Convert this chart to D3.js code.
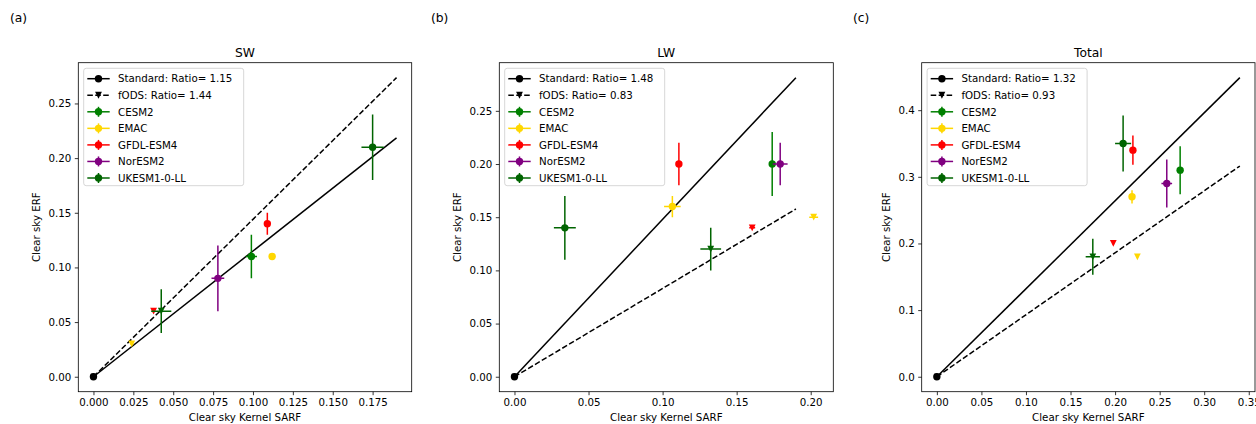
<!DOCTYPE html>
<html>
<head>
<meta charset="utf-8">
<script src="https://cdn.jsdelivr.net/npm/d3@7"></script>
<style>
  body { margin: 0; background: #fff; }
  svg text { font-family: "DejaVu Sans", sans-serif; fill: #000; }
</style>
</head>
<body>
<svg id="chart" width="1256" height="424"></svg>
<script>
// ---------------- DATA ----------------
const models = ["CESM2", "EMAC", "GFDL-ESM4", "NorESM2", "UKESM1-0-LL"];
const modelColors = ["#008000", "#FFD700", "#FF0000", "#800080", "#006400"];
const fodsModels = ["EMAC", "GFDL-ESM4", "UKESM1-0-LL"];

const panelTitles = ["SW", "LW", "Total"];
const panelLetters = ["(a)", "(b)", "(c)"];
const ratioStandard = [1.15, 1.48, 1.32];
const ratioFods = [1.44, 0.83, 0.93];
const lineEndX = [0.19, 0.19, 0.34];

// Standard experiment (order = models)
const swStdX    = [0.099, 0.112, 0.109, 0.078, 0.175];
const swStdY    = [0.110, 0.110, 0.140, 0.090, 0.210];
const swStdXerr = [0.0035, 0.002, 0.001, 0.004, 0.007];
const swStdYerr = [0.020, 0.001, 0.010, 0.030, 0.030];
const lwStdX    = [0.174, 0.1066, 0.111, 0.1794, 0.034];
const lwStdY    = [0.200, 0.160, 0.200, 0.200, 0.140];
const lwStdXerr = [0.001, 0.0056, 0.001, 0.005, 0.0074];
const lwStdYerr = [0.030, 0.010, 0.020, 0.020, 0.030];
const totStdX    = [0.273, 0.219, 0.220, 0.258, 0.209];
const totStdY    = [0.310, 0.270, 0.340, 0.290, 0.350];
const totStdXerr = [0.001, 0.003, 0.001, 0.006, 0.009];
const totStdYerr = [0.036, 0.010, 0.022, 0.036, 0.042];

// fODS experiment (order = fodsModels)
const swFodsX    = [0.024, 0.0377, 0.0425];
const swFodsY    = [0.030, 0.060, 0.060];
const swFodsXerr = [0.001, 0.001, 0.0063];
const swFodsYerr = [0.001, 0.001, 0.020];
const lwFodsX    = [0.202, 0.1605, 0.1325];
const lwFodsY    = [0.150, 0.140, 0.120];
const lwFodsXerr = [0.003, 0.002, 0.007];
const lwFodsYerr = [0.001, 0.001, 0.020];
const totFodsX    = [0.225, 0.198, 0.175];
const totFodsY    = [0.180, 0.200, 0.180];
const totFodsXerr = [0.001, 0.001, 0.008];
const totFodsYerr = [0.001, 0.001, 0.027];

const xTicksA = [0, 0.025, 0.05, 0.075, 0.1, 0.125, 0.15, 0.175];
const xTicksB = [0, 0.05, 0.1, 0.15, 0.2];
const xTicksC = [0, 0.05, 0.1, 0.15, 0.2, 0.25, 0.3, 0.35];
const yTicksA = [0, 0.05, 0.1, 0.15, 0.2, 0.25];
const yTicksB = [0, 0.05, 0.1, 0.15, 0.2, 0.25];
const yTicksC = [0, 0.1, 0.2, 0.3, 0.4];

const xLabel = "Clear sky Kernel SARF";
const yLabel = "Clear sky ERF";

// ---------------- LAYOUT ----------------
const FS = 10.25;
const layout = [
  { left: 78.3, right: 411.7, xfmt: ".3f", yfmt: ".2f", letterX: 10 },
  { left: 499.3, right: 833.3, xfmt: ".2f", yfmt: ".2f", letterX: 431 },
  { left: 921.7, right: 1255, xfmt: ".2f", yfmt: ".1f", letterX: 853 }
];
const axTop = 62.7, axBottom = 391.7;

const panels = [
  { std: [swStdX, swStdY, swStdXerr, swStdYerr], fods: [swFodsX, swFodsY, swFodsXerr, swFodsYerr], xt: xTicksA, yt: yTicksA },
  { std: [lwStdX, lwStdY, lwStdXerr, lwStdYerr], fods: [lwFodsX, lwFodsY, lwFodsXerr, lwFodsYerr], xt: xTicksB, yt: yTicksB },
  { std: [totStdX, totStdY, totStdXerr, totStdYerr], fods: [totFodsX, totFodsY, totFodsXerr, totFodsYerr], xt: xTicksC, yt: yTicksC }
];

const svg = d3.select("#chart");
svg.append("rect").attr("width", 1256).attr("height", 424).attr("fill", "#fff");

function colorOf(name) { return modelColors[models.indexOf(name)]; }

panels.forEach((p, i) => {
  const L = layout[i];
  const g = svg.append("g");
  let xs = [0, lineEndX[i]], ys = [0, lineEndX[i] * ratioStandard[i], lineEndX[i] * ratioFods[i]];
  [p.std, p.fods].forEach(s => {
    s[0].forEach((v, k) => { xs.push(v - s[2][k], v + s[2][k]); });
    s[1].forEach((v, k) => { ys.push(v - s[3][k], v + s[3][k]); });
  });
  const xmin = d3.min(xs), xmax = d3.max(xs), ymin = d3.min(ys), ymax = d3.max(ys);
  const xr = xmax - xmin, yr = ymax - ymin;
  const x = d3.scaleLinear().domain([xmin - 0.05 * xr, xmax + 0.05 * xr]).range([L.left, L.right]);
  const y = d3.scaleLinear().domain([ymin - 0.05 * yr, ymax + 0.05 * yr]).range([axBottom, axTop]);

  const clipId = "clip" + i;
  svg.append("clipPath").attr("id", clipId).append("rect")
    .attr("x", L.left).attr("y", axTop).attr("width", L.right - L.left).attr("height", axBottom - axTop);
  const plot = g.append("g").attr("clip-path", `url(#${clipId})`);

  const line = d3.line().x(d => x(d[0])).y(d => y(d[1]));
  plot.append("path").attr("d", line([[0, 0], [lineEndX[i], lineEndX[i] * ratioStandard[i]]]))
    .attr("stroke", "#000").attr("stroke-width", 1.5).attr("fill", "none");
  plot.append("path").attr("d", line([[0, 0], [lineEndX[i], lineEndX[i] * ratioFods[i]]]))
    .attr("stroke", "#000").attr("stroke-width", 1.5).attr("fill", "none")
    .attr("stroke-dasharray", "5.55,2.4");

  plot.append("path").attr("d", "M-3,-3L3,-3L0,3Z").attr("transform", `translate(${x(0)},${y(0)})`).attr("fill", "#000");
  plot.append("circle").attr("cx", x(0)).attr("cy", y(0)).attr("r", 3.7).attr("fill", "#000");

  function drawPoint(cx, cy, xe, ye, col, shape) {
    plot.append("line").attr("x1", x(cx - xe)).attr("x2", x(cx + xe)).attr("y1", y(cy)).attr("y2", y(cy))
      .attr("stroke", col).attr("stroke-width", 1.5);
    plot.append("line").attr("x1", x(cx)).attr("x2", x(cx)).attr("y1", y(cy - ye)).attr("y2", y(cy + ye))
      .attr("stroke", col).attr("stroke-width", 1.5);
    if (shape === "circle") {
      plot.append("circle").attr("cx", x(cx)).attr("cy", y(cy)).attr("r", 3.7).attr("fill", col);
    } else {
      plot.append("path").attr("d", "M-3.4,-3.4L3.4,-3.4L0,3.4Z").attr("transform", `translate(${x(cx)},${y(cy)})`).attr("fill", col);
    }
  }
  models.forEach((m, k) => drawPoint(p.std[0][k], p.std[1][k], p.std[2][k], p.std[3][k], modelColors[k], "circle"));
  fodsModels.forEach((m, k) => drawPoint(p.fods[0][k], p.fods[1][k], p.fods[2][k], p.fods[3][k], colorOf(m), "tri"));

  const xAxis = d3.axisBottom(x).tickValues(p.xt).tickFormat(d3.format(L.xfmt)).tickSize(3.5).tickPadding(3.5);
  const yAxis = d3.axisLeft(y).tickValues(p.yt).tickFormat(d3.format(L.yfmt)).tickSize(3.5).tickPadding(3.5);
  const gx = g.append("g").attr("transform", `translate(0,${axBottom})`).call(xAxis);
  const gy = g.append("g").attr("transform", `translate(${L.left},0)`).call(yAxis);
  [gx, gy].forEach(a => {
    a.select(".domain").remove();
    a.selectAll("line").attr("stroke", "#000").attr("stroke-width", 0.8);
    a.selectAll("text").attr("font-size", FS).attr("fill", "#000").attr("font-family", "DejaVu Sans");
  });
  g.append("rect").attr("x", L.left).attr("y", axTop).attr("width", L.right - L.left).attr("height", axBottom - axTop)
    .attr("fill", "none").attr("stroke", "#000").attr("stroke-width", 0.8);

  let maxW = 0;
  gy.selectAll("text").each(function() { maxW = Math.max(maxW, this.getComputedTextLength()); });
  g.append("text").attr("transform", `translate(${L.left - 7 - maxW - 8},${(axTop + axBottom) / 2}) rotate(-90)`)
    .attr("text-anchor", "middle").attr("font-size", FS).text(yLabel);
  g.append("text").attr("x", (L.left + L.right) / 2).attr("y", 421).attr("text-anchor", "middle")
    .attr("font-size", FS).text(xLabel);
  g.append("text").attr("x", (L.left + L.right) / 2).attr("y", 56.5).attr("text-anchor", "middle")
    .attr("font-size", 12.3).text(panelTitles[i]);
  g.append("text").attr("x", L.letterX).attr("y", 22).attr("font-size", 12.3).text(panelLetters[i]);

  const lx = L.left + 5.4, ly = axTop + 5.6, lw = 160, lh = 117.4;
  const lg = g.append("g");
  lg.append("rect").attr("x", lx).attr("y", ly).attr("width", lw).attr("height", lh).attr("rx", 2.5)
    .attr("fill", "#fff").attr("fill-opacity", 0.8).attr("stroke", "#cccccc").attr("stroke-width", 0.8);
  const entries = [
    { label: `Standard: Ratio= ${ratioStandard[i].toFixed(2)}`, color: "#000", shape: "circle", dash: null, err: false },
    { label: `fODS: Ratio= ${ratioFods[i].toFixed(2)}`, color: "#000", shape: "tri", dash: "5.55,2.4", err: false }
  ].concat(models.map((m, k) => ({ label: m, color: modelColors[k], shape: "circle", dash: null, err: true })));
  entries.forEach((e, k) => {
    const cy = ly + 10.4 + k * 16.55;
    const x0 = lx + 3.6, x1 = lx + 26, xc = (x0 + x1) / 2;
    const ln = lg.append("line").attr("x1", x0).attr("x2", x1).attr("y1", cy).attr("y2", cy)
      .attr("stroke", e.color).attr("stroke-width", 1.5);
    if (e.dash) ln.attr("stroke-dasharray", e.dash);
    if (e.err) {
      lg.append("line").attr("x1", xc).attr("x2", xc).attr("y1", cy - 5).attr("y2", cy + 5)
        .attr("stroke", e.color).attr("stroke-width", 1.5);
    }
    if (e.shape === "circle") {
      lg.append("circle").attr("cx", xc).attr("cy", cy).attr("r", 3.7).attr("fill", e.color);
    } else {
      lg.append("path").attr("d", "M-3.4,-3.4L3.4,-3.4L0,3.4Z").attr("transform", `translate(${xc},${cy})`).attr("fill", e.color);
    }
    lg.append("text").attr("x", lx + 34.3).attr("y", cy + 3.7).attr("font-size", FS).text(e.label);
  });
});
</script>
</body>
</html>
